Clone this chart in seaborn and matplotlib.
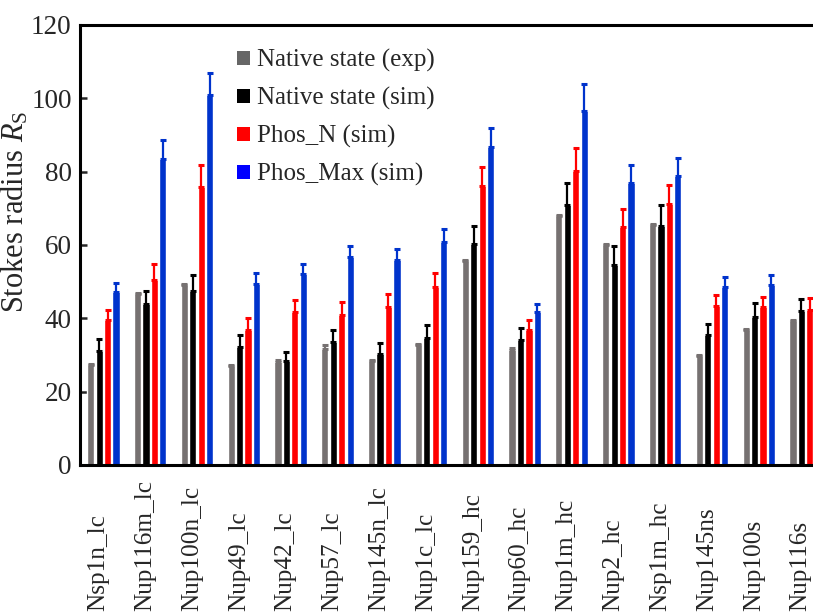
import numpy as np
import pandas as pd
import matplotlib
matplotlib.use("Agg")
import matplotlib.pyplot as plt
import matplotlib.transforms as mtransforms
from matplotlib.patches import Patch
import seaborn as sns

categories = ["Nsp1n_lc", "Nup116m_lc", "Nup100n_lc", "Nup49_lc", "Nup42_lc",
              "Nup57_lc", "Nup145n_lc", "Nup1c_lc", "Nup159_hc", "Nup60_hc",
              "Nup1m_hc", "Nup2_hc", "Nsp1m_hc", "Nup145ns", "Nup100s", "Nup116s"]

series = ["Native state (exp)", "Native state (sim)", "Phos_N (sim)", "Phos_Max (sim)"]

native_exp = [27.3, 46.6, 49.2, 26.9, 28.2, 31.6, 28.4, 32.7, 55.6, 31.5,
              68.0, 60.0, 65.4, 29.8, 36.7, 39.3]
native_exp_err = [0.3, 0.3, 0.3, 0.3, 0.4, 1.0, 0.3, 0.4, 0.3, 0.3,
                  0.3, 0.3, 0.3, 0.3, 0.4, 0.3]

native_sim = [31.1, 43.9, 47.5, 32.2, 28.4, 33.5, 30.4, 34.6, 60.2, 34.2,
              71.0, 54.5, 65.1, 35.5, 40.5, 42.0]
native_sim_err = [3.3, 3.6, 4.4, 3.3, 2.5, 3.4, 2.8, 3.5, 5.0, 3.1,
                  5.8, 5.3, 5.7, 2.9, 3.6, 3.4]

phos_n = [39.5, 50.5, 75.7, 36.8, 41.6, 40.9, 43.1, 48.5, 76.2, 36.8,
          80.2, 64.9, 71.1, 43.4, 43.1, 42.3]
phos_n_err = [2.8, 4.2, 6.2, 3.4, 3.4, 3.6, 3.6, 3.9, 5.1, 2.7,
              6.2, 4.9, 5.3, 3.0, 2.8, 3.3]

phos_max = [47.2, 83.4, 100.9, 49.5, 52.1, 56.6, 55.9, 60.9, 86.8, 41.7,
            96.6, 76.8, 78.8, 48.5, 49.1, 46.3]
phos_max_err = [2.4, 5.2, 6.1, 2.9, 2.7, 3.1, 3.0, 3.5, 5.0, 2.3,
                7.2, 5.0, 5.0, 2.8, 2.6, 3.1]

bar_colors = ["#767171", "#000000", "#FF0000", "#0033CC"]
legend_colors = ["#666666", "#000000", "#FF0000", "#0000FF"]

values = [native_exp, native_sim, phos_n, phos_max]
errors = [native_exp_err, native_sim_err, phos_n_err, phos_max_err]

df = pd.DataFrame({
    "category": np.repeat([categories], len(series), axis=0).ravel(),
    "series": np.repeat(series, len(categories)),
    "value": np.concatenate(values),
    "err": np.concatenate(errors),
})

sns.set_theme(style="white")
plt.rcParams["font.family"] = ["Liberation Serif", "DejaVu Serif"]
plt.rcParams["mathtext.fontset"] = "custom"
plt.rcParams["mathtext.rm"] = "Liberation Serif"
plt.rcParams["mathtext.it"] = "Liberation Serif:italic"

fig = plt.figure(figsize=(8.13, 6.14), dpi=100)
ax = fig.add_axes([80 / 813, 149 / 614, 749 / 813, 440 / 614])

sns.barplot(data=df, x="category", y="value", hue="series", order=categories,
            hue_order=series, palette=bar_colors, width=0.72, gap=0.15,
            errorbar=None, saturation=1, legend=False, ax=ax)

# upward-only error bars with caps, same colour as the bars
for k, s in enumerate(series):
    bars = ax.containers[k]
    xs = [b.get_x() + b.get_width() / 2 for b in bars]
    hs = [b.get_height() for b in bars]
    ax.errorbar(xs, hs, yerr=[np.zeros(len(hs)), errors[k]], fmt="none",
                ecolor=bar_colors[k], elinewidth=1.6,
                capsize=2.0 if k == 0 else 2.5,
                capthick=2.2, zorder=3)

ax.set_xlim(-0.5, 15.5)
ax.set_ylim(0, 120)
ax.set_yticks(np.arange(0, 121, 20))
ax.tick_params(axis="y", direction="in", length=5, width=1.8, pad=6,
               labelsize=19.5, left=True)
ax.tick_params(axis="x", bottom=False, labelbottom=False)
ax.set_xlabel("")
for side in ["left", "bottom", "top", "right"]:
    ax.spines[side].set_linewidth(2.2)
    ax.spines[side].set_color("black")

ax.set_ylabel(r"Stokes radius $R_\mathrm{S}$", fontsize=22)
ax.yaxis.set_label_coords(-0.066, 0.575)

# category names, rotated, reading upward from a common baseline
shift = mtransforms.ScaledTranslation(-5 / 100, 0, fig.dpi_scale_trans)
trans = mtransforms.blended_transform_factory(ax.transData, fig.transFigure) + shift
for i, name in enumerate(categories):
    ax.text(i, 3 / 614, name, transform=trans, rotation=90,
            rotation_mode="anchor", ha="left", va="center", fontsize=18.2)

handles = [Patch(facecolor=c, edgecolor="none") for c in legend_colors]
ax.legend(handles, series, loc="upper left", bbox_to_anchor=(147 / 749, 0.968),
          frameon=False, fontsize=18, handlelength=0.5, handleheight=0.5,
          handletextpad=0.3, labelspacing=0.6, borderaxespad=0)

fig.savefig("out.png", dpi=100)
